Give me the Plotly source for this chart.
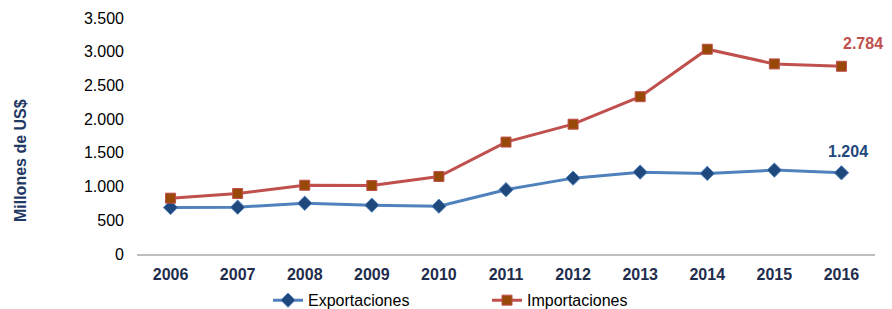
import plotly.graph_objects as go

years = ["2006", "2007", "2008", "2009", "2010", "2011", "2012", "2013", "2014", "2015", "2016"]
exportaciones = [689, 694, 753, 724, 709, 954, 1125, 1214, 1195, 1244, 1204]
importaciones = [828, 897, 1020, 1015, 1150, 1660, 1925, 2333, 3037, 2819, 2784]
y_ticks = [0, 500, 1000, 1500, 2000, 2500, 3000, 3500]
y_tick_text = ["0", "500", "1.000", "1.500", "2.000", "2.500", "3.000", "3.500"]
label_imp = "2.784"
label_exp = "1.204"
y_title = "Millones de US$"

font_family = "Liberation Sans, Arial, sans-serif"

fig = go.Figure()
fig.add_trace(go.Scatter(
    x=years, y=exportaciones, name="Exportaciones", mode="lines+markers",
    line=dict(color="#4F81BD", width=3),
    marker=dict(symbol="diamond", size=11, color="#1F497D", line=dict(color="#4F81BD", width=1)),
))
fig.add_trace(go.Scatter(
    x=years, y=importaciones, name="Importaciones", mode="lines+markers",
    line=dict(color="#C0504D", width=3),
    marker=dict(symbol="square", size=10, color="#984807", line=dict(color="#C0504D", width=1)),
))

last = len(years) - 1
fig.add_annotation(x=last, y=importaciones[-1], text="<b>" + label_imp + "</b>", showarrow=False,
                   xshift=22, yshift=23, font=dict(color="#C0504D", size=16, family=font_family))
fig.add_annotation(x=last, y=exportaciones[-1], text="<b>" + label_exp + "</b>", showarrow=False,
                   xshift=7, yshift=21, font=dict(color="#1F497D", size=16, family=font_family))
fig.add_annotation(xref="paper", yref="paper", x=-0.1585, y=0.394, text="<b>" + y_title + "</b>",
                   textangle=-90, showarrow=False, xanchor="center", yanchor="middle",
                   font=dict(color="#1F3864", size=16, family=font_family))

fig.update_layout(
    width=892, height=309,
    margin=dict(l=129, r=25, t=10, b=63, autoexpand=False),
    paper_bgcolor="white", plot_bgcolor="white",
    font=dict(family=font_family, size=16, color="black"),
    showlegend=True,
    legend=dict(orientation="h", xref="container", yref="paper", x=0.2915, y=-0.196,
                xanchor="left", yanchor="middle", font=dict(size=16, color="black"),
                entrywidth=174, entrywidthmode="pixels", itemwidth=30),
)
fig.update_xaxes(
    type="category", range=[-0.5, 10.5], showgrid=False, showline=True,
    linecolor="#BFBFBF", linewidth=2, ticks="",
    tickfont=dict(family=font_family, size=16, color="#1F2D4D", weight="bold"),
    ticklabelstandoff=5,
    zeroline=False,
)
fig.update_yaxes(
    range=[0, 3500], tickvals=y_ticks, ticktext=y_tick_text, showgrid=False,
    showline=False, zeroline=False, ticks="",
    tickfont=dict(family=font_family, size=16, color="black"),
    ticklabelstandoff=12,
)

fig.write_html("out.html")
